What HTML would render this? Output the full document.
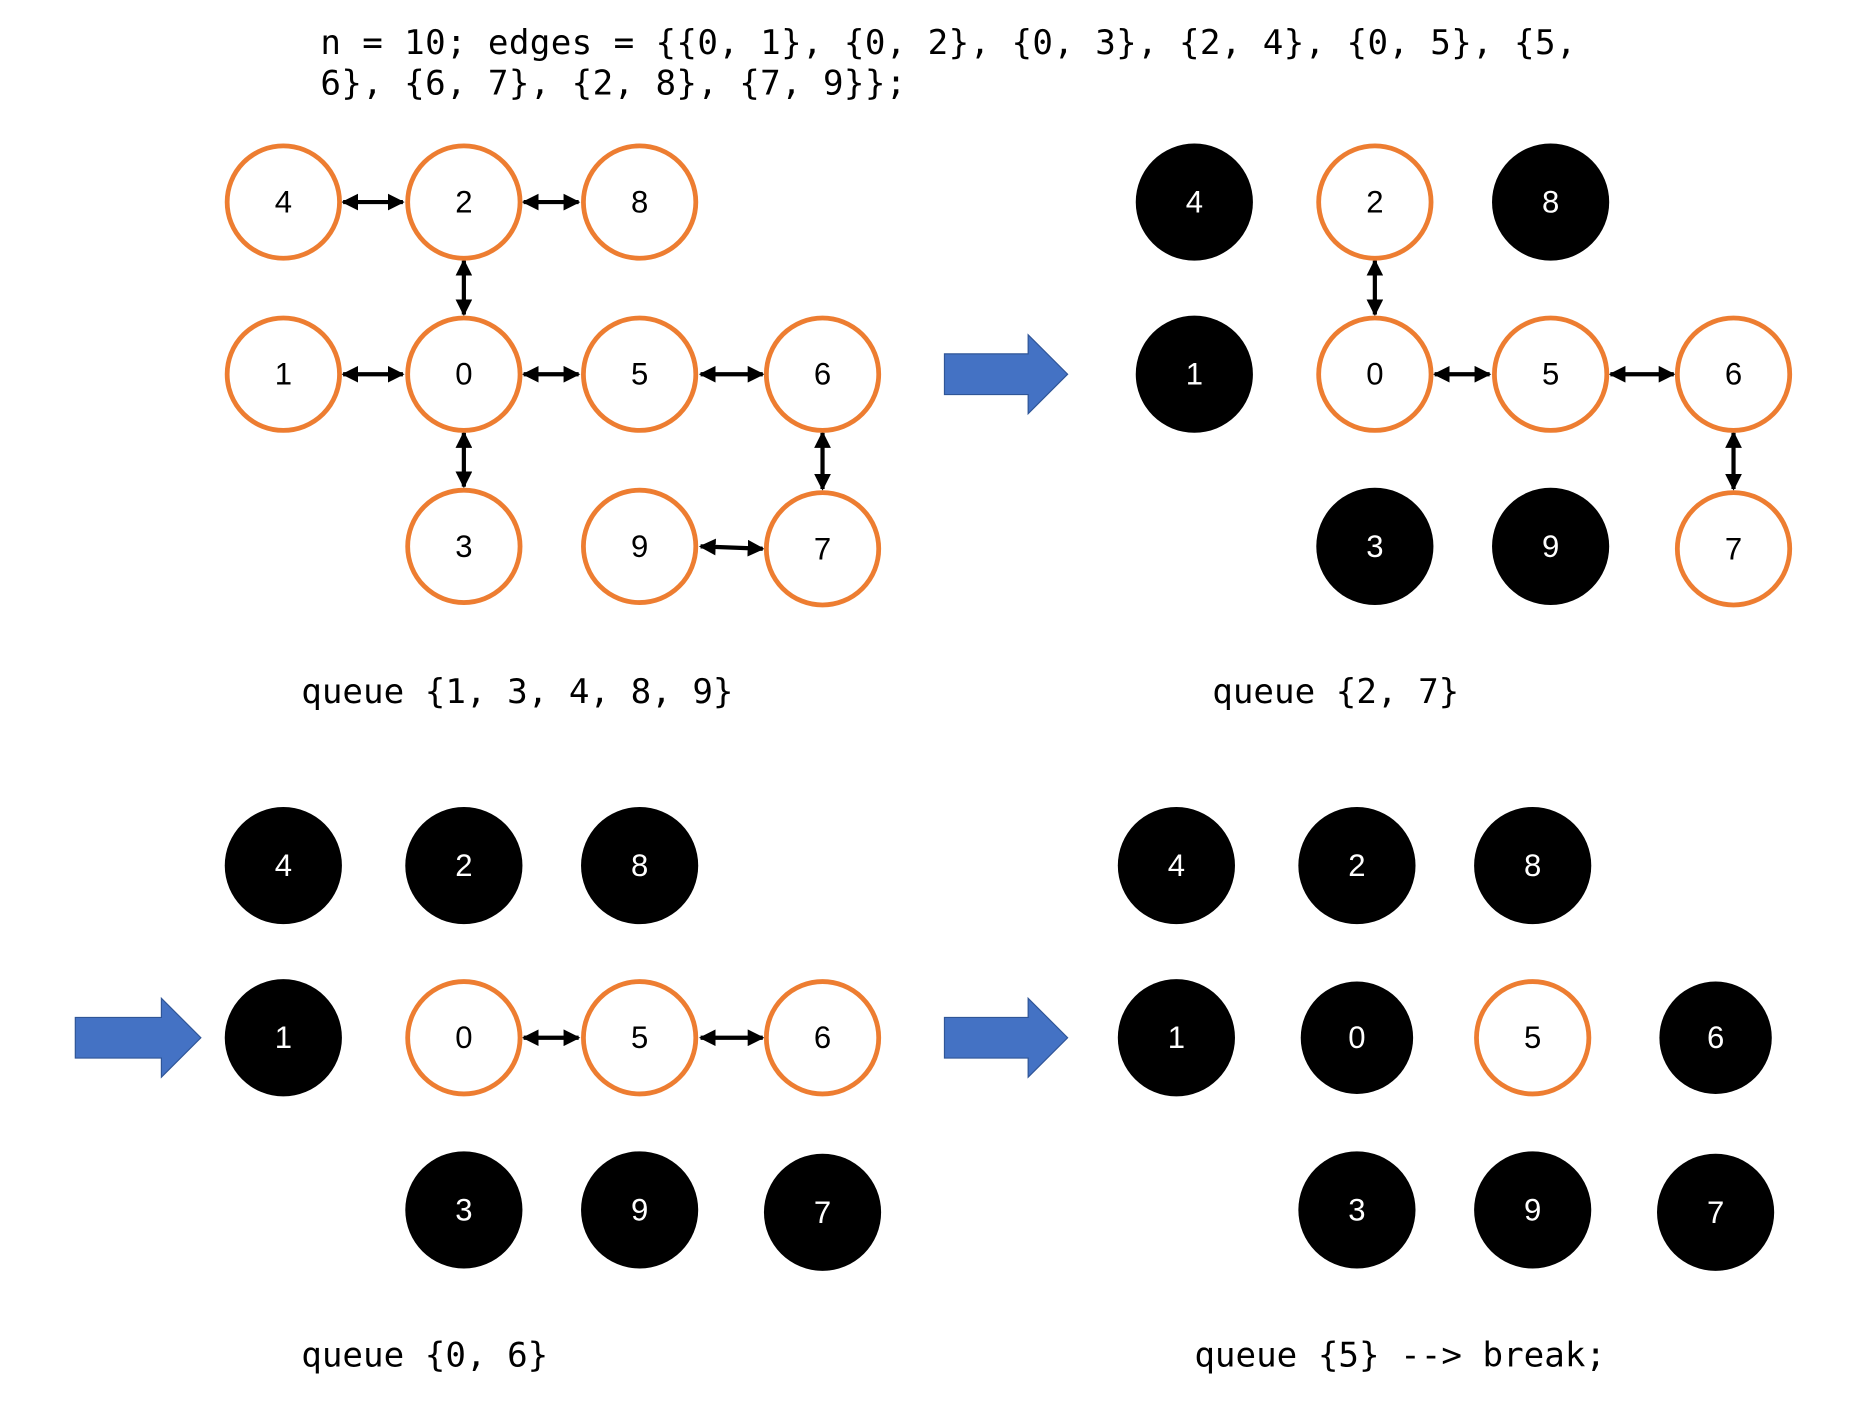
<!DOCTYPE html>
<html><head><meta charset="utf-8"><style>html,body{margin:0;padding:0;background:#fff}svg{display:block}</style></head>
<body>
<svg width="1874" height="1406" viewBox="0 0 1567.5 1176" xmlns="http://www.w3.org/2000/svg">
<defs>
<marker id="ah" viewBox="0 0 10 10" refX="9" refY="5" markerWidth="4" markerHeight="4" markerUnits="strokeWidth" orient="auto-start-reverse"><path d="M0,0 L10,5 L0,10 z" fill="#000"/></marker>
<g id="o"><circle r="47" fill="#fff" stroke="#ED7D31" stroke-width="4"/></g>
</defs>
<style>
.c{font-family:"DejaVu Sans Mono","Liberation Mono",monospace;font-size:28.6px;fill:#000}
.t{letter-spacing:0.3px}
.n{font-family:"Liberation Sans",sans-serif;font-size:26px;text-anchor:middle;dominant-baseline:central}
.w{fill:#fff}
.e{stroke:#000;stroke-width:3.5;marker-start:url(#ah);marker-end:url(#ah)}
</style>
<text class="c t" x="268" y="45">n = 10; edges = {{0, 1}, {0, 2}, {0, 3}, {2, 4}, {0, 5}, {5,</text>
<text class="c t" x="268" y="79">6}, {6, 7}, {2, 8}, {7, 9}};</text>

<g>
<line class="e" x1="287" y1="169" x2="337" y2="169"/>
<line class="e" x1="438" y1="169" x2="484" y2="169"/>
<line class="e" x1="388" y1="218" x2="388" y2="263"/>
<line class="e" x1="287" y1="313" x2="337" y2="313"/>
<line class="e" x1="438" y1="313" x2="484" y2="313"/>
<line class="e" x1="586" y1="313" x2="638" y2="313"/>
<line class="e" x1="388" y1="362" x2="388" y2="407"/>
<line class="e" x1="688" y1="362" x2="688" y2="409"/>
<line class="e" x1="586" y1="457" x2="638" y2="459"/>
<use href="#o" x="237" y="169"/><text class="n" x="237" y="169">4</text>
<use href="#o" x="388" y="169"/><text class="n" x="388" y="169">2</text>
<use href="#o" x="535" y="169"/><text class="n" x="535" y="169">8</text>
<use href="#o" x="237" y="313"/><text class="n" x="237" y="313">1</text>
<use href="#o" x="388" y="313"/><text class="n" x="388" y="313">0</text>
<use href="#o" x="535" y="313"/><text class="n" x="535" y="313">5</text>
<use href="#o" x="688" y="313"/><text class="n" x="688" y="313">6</text>
<use href="#o" x="388" y="457"/><text class="n" x="388" y="457">3</text>
<use href="#o" x="535" y="457"/><text class="n" x="535" y="457">9</text>
<use href="#o" x="688" y="459"/><text class="n" x="688" y="459">7</text>
</g>
<text class="c" x="252" y="588">queue {1, 3, 4, 8, 9}</text>

<path d="M790,296 L860,296 L860,280 L893,313 L860,346 L860,330 L790,330 z" fill="#4472C4" stroke="#2F5597" stroke-width="1"/>

<g>
<line class="e" x1="1150" y1="218" x2="1150" y2="263"/>
<line class="e" x1="1200" y1="313" x2="1246" y2="313"/>
<line class="e" x1="1347" y1="313" x2="1400" y2="313"/>
<line class="e" x1="1450" y1="362" x2="1450" y2="409"/>
<circle cx="999" cy="169" r="49"/><text class="n w" x="999" y="169">4</text>
<use href="#o" x="1150" y="169"/><text class="n" x="1150" y="169">2</text>
<circle cx="1297" cy="169" r="49"/><text class="n w" x="1297" y="169">8</text>
<circle cx="999" cy="313" r="49"/><text class="n w" x="999" y="313">1</text>
<use href="#o" x="1150" y="313"/><text class="n" x="1150" y="313">0</text>
<use href="#o" x="1297" y="313"/><text class="n" x="1297" y="313">5</text>
<use href="#o" x="1450" y="313"/><text class="n" x="1450" y="313">6</text>
<circle cx="1150" cy="457" r="49"/><text class="n w" x="1150" y="457">3</text>
<circle cx="1297" cy="457" r="49"/><text class="n w" x="1297" y="457">9</text>
<use href="#o" x="1450" y="459"/><text class="n" x="1450" y="459">7</text>
</g>
<text class="c" x="1014" y="588">queue {2, 7}</text>

<path d="M63,851 L135,851 L135,835 L168,868 L135,901 L135,885 L63,885 z" fill="#4472C4" stroke="#2F5597" stroke-width="1"/>

<g>
<line class="e" x1="438" y1="868" x2="484" y2="868"/>
<line class="e" x1="586" y1="868" x2="638" y2="868"/>
<circle cx="237" cy="724" r="49"/><text class="n w" x="237" y="724">4</text>
<circle cx="388" cy="724" r="49"/><text class="n w" x="388" y="724">2</text>
<circle cx="535" cy="724" r="49"/><text class="n w" x="535" y="724">8</text>
<circle cx="237" cy="868" r="49"/><text class="n w" x="237" y="868">1</text>
<use href="#o" x="388" y="868"/><text class="n" x="388" y="868">0</text>
<use href="#o" x="535" y="868"/><text class="n" x="535" y="868">5</text>
<use href="#o" x="688" y="868"/><text class="n" x="688" y="868">6</text>
<circle cx="388" cy="1012" r="49"/><text class="n w" x="388" y="1012">3</text>
<circle cx="535" cy="1012" r="49"/><text class="n w" x="535" y="1012">9</text>
<circle cx="688" cy="1014" r="49"/><text class="n w" x="688" y="1014">7</text>
</g>
<text class="c" x="252" y="1143">queue {0, 6}</text>

<path d="M790,851 L860,851 L860,835 L893,868 L860,901 L860,885 L790,885 z" fill="#4472C4" stroke="#2F5597" stroke-width="1"/>

<g>
<circle cx="984" cy="724" r="49"/><text class="n w" x="984" y="724">4</text>
<circle cx="1135" cy="724" r="49"/><text class="n w" x="1135" y="724">2</text>
<circle cx="1282" cy="724" r="49"/><text class="n w" x="1282" y="724">8</text>
<circle cx="984" cy="868" r="49"/><text class="n w" x="984" y="868">1</text>
<circle cx="1135" cy="868" r="47"/><text class="n w" x="1135" y="868">0</text>
<use href="#o" x="1282" y="868"/><text class="n" x="1282" y="868">5</text>
<circle cx="1435" cy="868" r="47"/><text class="n w" x="1435" y="868">6</text>
<circle cx="1135" cy="1012" r="49"/><text class="n w" x="1135" y="1012">3</text>
<circle cx="1282" cy="1012" r="49"/><text class="n w" x="1282" y="1012">9</text>
<circle cx="1435" cy="1014" r="49"/><text class="n w" x="1435" y="1014">7</text>
</g>
<text class="c" x="999" y="1143">queue {5} --&gt; break;</text>
</svg>
</body></html>
